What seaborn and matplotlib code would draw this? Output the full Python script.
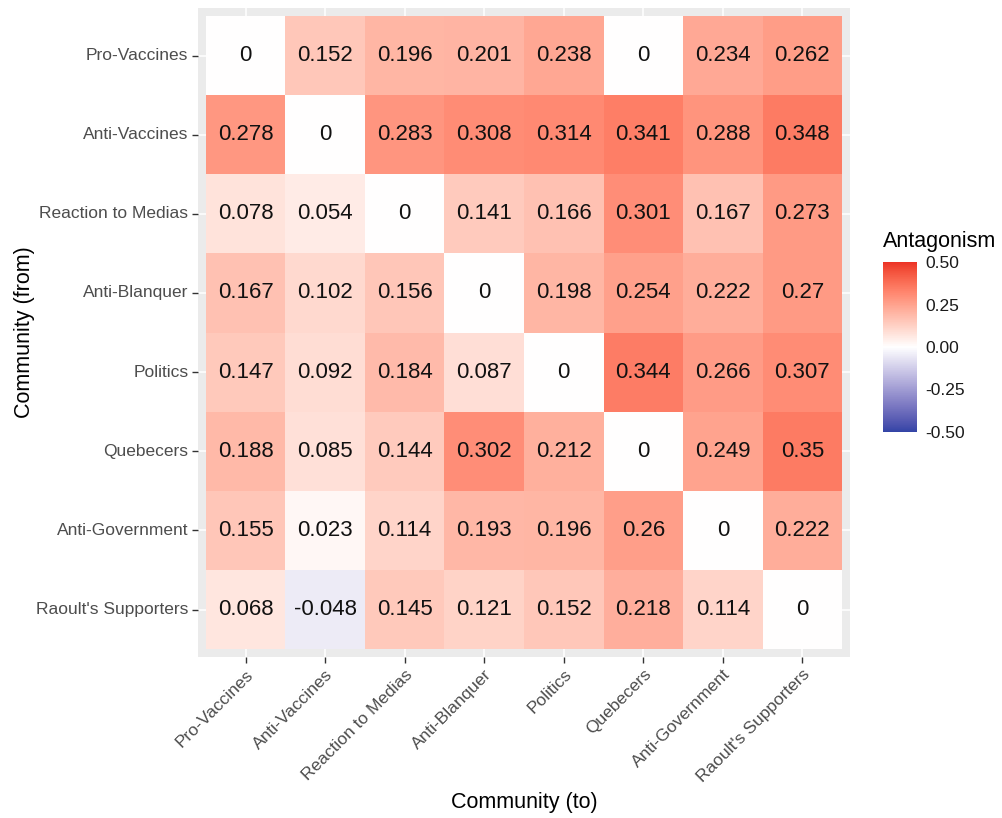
import numpy as np
import pandas as pd
import matplotlib
matplotlib.use("Agg")
import matplotlib.pyplot as plt
from matplotlib.colors import LinearSegmentedColormap
import seaborn as sns

communities = ["Pro-Vaccines", "Anti-Vaccines", "Reaction to Medias", "Anti-Blanquer",
               "Politics", "Quebecers", "Anti-Government", "Raoult's Supporters"]

pro_vaccines = [0, 0.152, 0.196, 0.201, 0.238, 0, 0.234, 0.262]
anti_vaccines = [0.278, 0, 0.283, 0.308, 0.314, 0.341, 0.288, 0.348]
reaction_to_medias = [0.078, 0.054, 0, 0.141, 0.166, 0.301, 0.167, 0.273]
anti_blanquer = [0.167, 0.102, 0.156, 0, 0.198, 0.254, 0.222, 0.27]
politics = [0.147, 0.092, 0.184, 0.087, 0, 0.344, 0.266, 0.307]
quebecers = [0.188, 0.085, 0.144, 0.302, 0.212, 0, 0.249, 0.35]
anti_government = [0.155, 0.023, 0.114, 0.193, 0.196, 0.26, 0, 0.222]
raoult_supporters = [0.068, -0.048, 0.145, 0.121, 0.152, 0.218, 0.114, 0]

colorbar_ticks = [-0.50, -0.25, 0.00, 0.25, 0.50]

matrix = pd.DataFrame(
    [pro_vaccines, anti_vaccines, reaction_to_medias, anti_blanquer,
     politics, quebecers, anti_government, raoult_supporters],
    index=communities, columns=communities)
labels = matrix.map(lambda v: f"{v:g}")


# Diverging palette interpolated in CIE Lab space (blue - white - red)
def srgb_to_lab(rgb):
    c = np.asarray(rgb, dtype=float)
    lin = np.where(c <= 0.04045, c / 12.92, ((c + 0.055) / 1.055) ** 2.4)
    m = np.array([[0.4124, 0.3576, 0.1805],
                  [0.2126, 0.7152, 0.0722],
                  [0.0193, 0.1192, 0.9505]])
    xyz = m @ lin / np.array([0.95047, 1.0, 1.08883])
    f = np.where(xyz > 0.008856, np.cbrt(xyz), 7.787 * xyz + 16 / 116)
    return np.array([116 * f[1] - 16, 500 * (f[0] - f[1]), 200 * (f[1] - f[2])])


def lab_to_srgb(lab):
    L, a, b = lab
    fy = (L + 16) / 116
    fx = fy + a / 500
    fz = fy - b / 200
    f = np.array([fx, fy, fz])
    xyz = np.where(f ** 3 > 0.008856, f ** 3, (f - 16 / 116) / 7.787)
    xyz = xyz * np.array([0.95047, 1.0, 1.08883])
    m = np.array([[3.2406, -1.5372, -0.4986],
                  [-0.9689, 1.8758, 0.0415],
                  [0.0557, -0.2040, 1.0570]])
    lin = m @ xyz
    c = np.where(lin <= 0.0031308, 12.92 * lin, 1.055 * np.clip(lin, 0, None) ** (1 / 2.4) - 0.055)
    return np.clip(c, 0, 1)


low = srgb_to_lab(matplotlib.colors.to_rgb("#3344A6"))
mid = srgb_to_lab(matplotlib.colors.to_rgb("#FFFFFF"))
high = srgb_to_lab(matplotlib.colors.to_rgb("#EC3326"))
stops = []
for t in np.linspace(0, 1, 101):
    if t < 0.5:
        lab = low + (mid - low) * (t / 0.5)
    else:
        lab = mid + (high - mid) * ((t - 0.5) / 0.5)
    stops.append(lab_to_srgb(lab))
cmap = LinearSegmentedColormap.from_list("antagonism", stops)

sns.set_theme(style="white")
plt.rcParams["font.family"] = ["Liberation Sans", "DejaVu Sans"]

fig = plt.figure(figsize=(10.03, 8.18), dpi=100)
ax = fig.add_axes([0.1974, 0.1968, 0.6501, 0.7934])
cax = fig.add_axes([0.8804, 0.4719, 0.0339, 0.2078])

ax.set_facecolor("#EBEBEB")
for i in range(len(communities)):
    ax.axvline(i + 0.5, color="white", lw=1.1, zorder=0)
    ax.axhline(i + 0.5, color="white", lw=1.1, zorder=0)

sns.heatmap(matrix, ax=ax, cmap=cmap, vmin=-0.5, vmax=0.5, center=None,
            annot=labels, fmt="", annot_kws={"color": "#111111", "fontsize": 16},
            cbar_ax=cax, cbar_kws={"ticks": colorbar_ticks})

ax.set_xlim(-0.1, 8.1)
ax.set_ylim(8.1, -0.1)
for s in ax.spines.values():
    s.set_visible(False)

ax.set_xticks(np.arange(len(communities)) + 0.5)
ax.set_yticks(np.arange(len(communities)) + 0.5)
ax.set_xticklabels(communities, rotation=45, ha="right", rotation_mode="anchor",
                   fontsize=12.5, color="#4D4D4D")
ax.set_yticklabels(communities, rotation=0, fontsize=12.5, color="#4D4D4D")
ax.tick_params(axis="both", which="major", length=4, width=1, color="#333333",
               bottom=True, left=True, pad=3)
ax.set_xlabel("Community (to)", fontsize=15.5, color="black", labelpad=5)
ax.set_ylabel("Community (from)", fontsize=15.5, color="black", labelpad=1)

cbar = ax.collections[0].colorbar
cbar.outline.set_visible(False)
cax.set_yticklabels(["-0.50", "-0.25", "0.00", "0.25", "0.50"])
cax.tick_params(axis="y", which="major", direction="in", length=6, width=0.8,
                color="white", labelsize=12.5, labelcolor="#1A1A1A", pad=6,
                left=True, right=True)
cax.text(0.0, 1.06, "Antagonism", transform=cax.transAxes, ha="left", va="bottom",
         fontsize=15.5, color="black")

fig.savefig("out.png", dpi=100, facecolor="white")
